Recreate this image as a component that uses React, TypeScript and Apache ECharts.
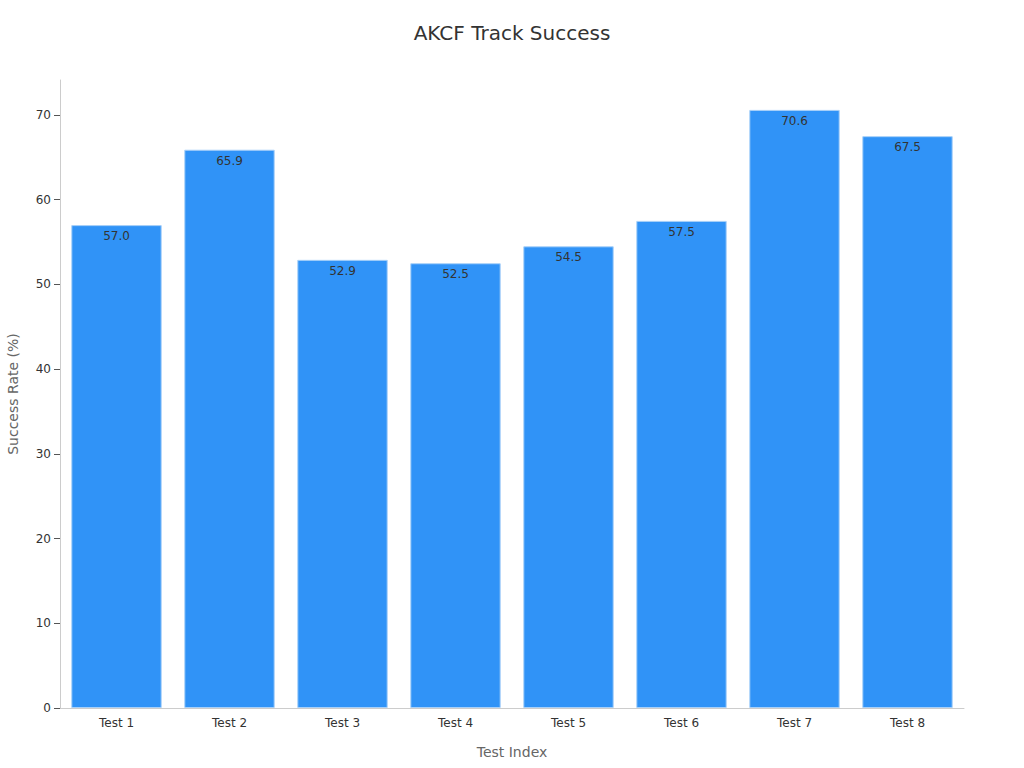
import React, { useEffect, useRef } from "react";
import * as echarts from "echarts";

const categories = ["Test 1", "Test 2", "Test 3", "Test 4", "Test 5", "Test 6", "Test 7", "Test 8"];
const successRates = [57.0, 65.9, 52.9, 52.5, 54.5, 57.5, 70.6, 67.5];
const yTicks = [0, 10, 20, 30, 40, 50, 60, 70];

export default function App() {
  const ref = useRef<HTMLDivElement>(null);
  useEffect(() => {
    if (!ref.current) return;
    const chart = echarts.init(ref.current, undefined, { renderer: "svg" });
    const font = "DejaVu Sans";
    chart.setOption({
      animation: false,
      backgroundColor: "#ffffff",
      textStyle: { fontFamily: font },
      title: {
        text: "AKCF Track Success",
        left: "center",
        top: 18,
        textStyle: { fontFamily: font, fontSize: 20, fontWeight: "normal", color: "#333333" },
      },
      grid: { left: 60, right: 60, top: 80, bottom: 60, containLabel: false, outerBoundsMode: "none" },
      xAxis: {
        type: "category",
        data: categories,
        name: "Test Index",
        nameLocation: "middle",
        nameGap: 37,
        nameTextStyle: { fontFamily: font, fontSize: 14, color: "#666666" },
        axisLine: { lineStyle: { color: "#cccccc" } },
        axisTick: { alignWithLabel: true, length: 5, lineStyle: { color: "#555555" } },
        axisLabel: { fontFamily: font, fontSize: 12, color: "#333333", margin: 9 },
      },
      yAxis: {
        type: "value",
        min: 0,
        max: 74.13,
        interval: 10,
        name: "Success Rate (%)",
        nameLocation: "middle",
        nameGap: 40,
        nameTextStyle: { fontFamily: font, fontSize: 14, color: "#666666" },
        axisLine: { show: true, lineStyle: { color: "#cccccc" } },
        axisTick: { show: true, length: 6, customValues: yTicks, lineStyle: { color: "#555555" } },
        splitLine: { show: false },
        axisLabel: {
          fontFamily: font,
          fontSize: 12,
          color: "#333333",
          margin: 9,
          customValues: yTicks,
        },
      },
      series: [
        {
          type: "bar",
          data: successRates,
          barWidth: "80%",
          itemStyle: { color: "#3093f7", borderColor: "#a8d0f8", borderWidth: 1 },
          label: {
            show: true,
            position: "insideTop",
            distance: 5,
            fontFamily: font,
            fontSize: 12,
            color: "#333333",
            formatter: (p: any) => Number(p.value).toFixed(1),
          },
        },
      ],
    });
    return () => chart.dispose();
  }, []);
  return <div ref={ref} style={{ position: "fixed", left: 0, top: 0, width: 1024, height: 768 }} />;
}
